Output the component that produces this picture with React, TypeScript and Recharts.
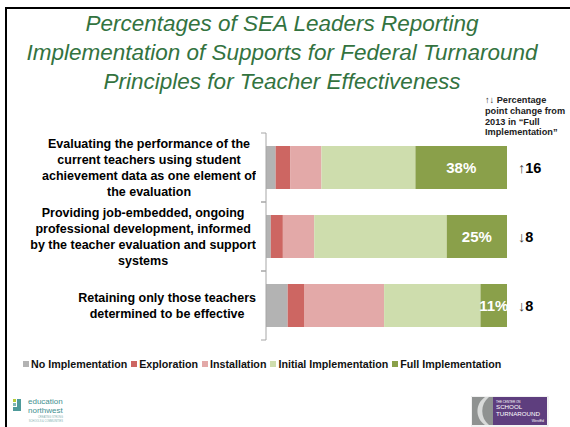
import React from 'react';
import { BarChart, Bar, XAxis, YAxis, LabelList } from 'recharts';

const categories = [
  'Evaluating the performance of the\ncurrent teachers using student\nachievement data as one element of\nthe evaluation',
  'Providing job-embedded, ongoing\nprofessional development, informed\nby the teacher evaluation and support\nsystems',
  'Retaining only those teachers\ndetermined to be effective',
];
const noImplementation = [4, 2, 9];
const exploration = [6, 5, 7];
const installation = [13, 13, 33];
const initialImplementation = [39, 55, 40];
const fullImplementation = [38, 25, 11];
const changeFrom2013 = [16, -8, -8];

const SERIES = [
  { key: 'none', name: 'No Implementation', color: '#B3B3B3', values: noImplementation },
  { key: 'exploration', name: 'Exploration', color: '#CD6662', values: exploration },
  { key: 'installation', name: 'Installation', color: '#E3A9A8', values: installation },
  { key: 'initial', name: 'Initial Implementation', color: '#CEDDAD', values: initialImplementation },
  { key: 'full', name: 'Full Implementation', color: '#8AA04A', values: fullImplementation },
];

const data = categories.map((name, i) => {
  const row: Record<string, any> = { name, change: changeFrom2013[i] };
  SERIES.forEach(s => { row[s.key] = s.values[i]; });
  return row;
});

const FONT = '"Liberation Sans", Arial, sans-serif';
const PLOT_LEFT = 266;
const BAND = 69;
const AXIS_COLOR = '#A6A6A6';

const CategoryTick = (props: any) => {
  const { y, payload } = props;
  return (
    <g>
      <line x1={PLOT_LEFT - 5} x2={PLOT_LEFT} y1={y - BAND / 2} y2={y - BAND / 2} stroke={AXIS_COLOR} />
      <line x1={PLOT_LEFT - 5} x2={PLOT_LEFT} y1={y + BAND / 2} y2={y + BAND / 2} stroke={AXIS_COLOR} />
      <foreignObject x={8} y={y - 40} width={248} height={80}>
        <div style={{ height: '100%', display: 'flex', alignItems: 'center', justifyContent: 'flex-end' }}>
          <div style={{ textAlign: 'center', whiteSpace: 'pre-line', fontFamily: FONT, fontWeight: 'bold', fontSize: 12.5, lineHeight: '16px', color: '#000' }}>
            {payload.value}
          </div>
        </div>
      </foreignObject>
    </g>
  );
};

const FullLabel = (props: any) => {
  const { x, y, width, height, value } = props;
  return (
    <text x={x + width / 2} y={y + height / 2} textAnchor="middle" dominantBaseline="central"
      fill="#fff" fontWeight="bold" fontSize={15} fontFamily={FONT}>
      {value}%
    </text>
  );
};

const ChangeLabel = (props: any) => {
  const { x, y, width, height, value } = props;
  return (
    <text x={x + width + 11} y={y + height / 2} dominantBaseline="central" fontSize={14.5} fontFamily={FONT}>
      <tspan fill="#444" fontWeight="normal">{value > 0 ? '↑' : '↓'}</tspan>
      <tspan fill="#000" fontWeight="bold">{Math.abs(value)}</tspan>
    </text>
  );
};

const EdNorthwestLogo = () => (
  <svg width={60} height={30} style={{ position: 'absolute', left: 10, top: 396 }}>
    <rect x={3} y={3} width={3} height={3} fill="#B5CC3A" />
    <rect x={3} y={7} width={3} height={3} fill="#7FB6B4" />
    <rect x={7} y={3} width={4} height={8} fill="#4E9A9A" />
    <rect x={3} y={11} width={8} height={4} fill="#4E9A9A" />
    <text x={18} y={8} fontSize={8} fill="#3F8F8F" fontFamily={FONT}>education</text>
    <text x={18} y={16.5} fontSize={8} fill="#3F8F8F" fontFamily={FONT}>northwest</text>
    <text x={53} y={22} fontSize={2.6} fill="#7FAFAF" textAnchor="end" fontFamily={FONT}>CREATING STRONG</text>
    <text x={53} y={26} fontSize={2.6} fill="#7FAFAF" textAnchor="end" fontFamily={FONT}>SCHOOLS &amp; COMMUNITIES</text>
  </svg>
);

const TurnaroundLogo = () => (
  <svg width={78} height={31} style={{ position: 'absolute', left: 471, top: 396 }}>
    <rect x={0} y={0} width={77} height={30} fill="#fff" stroke="#ccc" strokeWidth={0.5} />
    <rect x={1} y={1} width={21} height={28} fill="#8F9291" />
    <path d="M14 1 C4 8 4 22 14 29 L18 29 C9 22 9 8 18 1 Z" fill="#D8DAD9" />
    <rect x={22} y={1} width={54} height={28} fill="#5E3E7E" />
    <text x={25} y={6.5} fontSize={3} fill="#fff" fontFamily={FONT}>THE CENTER ON</text>
    <text x={25} y={13} fontSize={6.2} fill="#fff" fontFamily={FONT}>SCHOOL</text>
    <text x={25} y={19.5} fontSize={6.2} fill="#fff" fontFamily={FONT}>TURNAROUND</text>
    <text x={73} y={26} fontSize={3.5} fill="#fff" textAnchor="end" fontFamily={FONT}>WestEd</text>
  </svg>
);

export default function App() {
  return (
    <div style={{ position: 'absolute', left: 0, top: 0, width: 570, height: 427, background: '#fff', overflow: 'hidden', fontFamily: FONT }}>
      <div style={{ position: 'absolute', left: 5, top: 7, width: 565, height: 2, background: '#000' }} />
      <div style={{ position: 'absolute', left: 5, top: 7, width: 2, height: 420, background: '#000' }} />

      <div style={{ position: 'absolute', left: 0, top: 9, width: 564, textAlign: 'center', fontStyle: 'italic', fontSize: 22.5, lineHeight: '29px', color: '#33733F' }}>
        Percentages of SEA Leaders Reporting<br />
        Implementation of Supports for Federal Turnaround<br />
        Principles for Teacher Effectiveness
      </div>

      <div style={{ position: 'absolute', left: 485, top: 95, fontSize: 9.2, fontWeight: 'bold', lineHeight: '10.8px', color: '#222', whiteSpace: 'nowrap' }}>
        ↑↓ Percentage<br />
        point change from<br />
        2013 in “Full<br />
        Implementation”
      </div>

      <div style={{ position: 'absolute', left: 0, top: 0 }}>
        <BarChart width={570} height={427} data={data} layout="vertical"
          margin={{ top: 133, right: 63, bottom: 87, left: 8 }} barSize={43}>
          <XAxis type="number" domain={[0, 100]} hide />
          <YAxis type="category" dataKey="name" width={258} axisLine={{ stroke: AXIS_COLOR }}
            tickLine={false} tick={<CategoryTick />} interval={0} />
          {SERIES.map(s => (
            <Bar key={s.key} dataKey={s.key} name={s.name} stackId="a" fill={s.color} isAnimationActive={false}>
              {s.key === 'full' && <LabelList dataKey="full" content={<FullLabel />} />}
              {s.key === 'full' && <LabelList dataKey="change" content={<ChangeLabel />} />}
            </Bar>
          ))}
        </BarChart>
      </div>

      <div style={{ position: 'absolute', left: 23, top: 358, display: 'flex', alignItems: 'center', fontSize: 10.7, fontWeight: 'bold', lineHeight: '12px', color: '#111', whiteSpace: 'nowrap' }}>
        {SERIES.map(s => (
          <div key={s.key} style={{ display: 'flex', alignItems: 'center', marginRight: 4 }}>
            <span style={{ width: 6, height: 6, background: s.color, marginRight: 2, display: 'inline-block' }} />
            <span>{s.name}</span>
          </div>
        ))}
      </div>

      <EdNorthwestLogo />
      <TurnaroundLogo />
    </div>
  );
}
